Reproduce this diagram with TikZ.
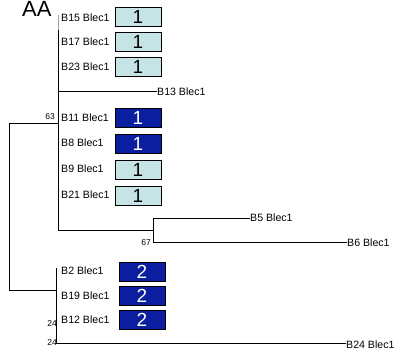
\documentclass[tikz,border=0pt]{standalone}
\usepackage{fontspec}
\setmainfont{Liberation Sans}
\definecolor{lightbox}{HTML}{C6E4E6}
\definecolor{darkbox}{HTML}{0B1EA0}
\begin{document}
\begin{tikzpicture}[x=1pt,y=-1pt,
  leaf/.style={anchor=west,inner sep=0pt,font=\fontsize{10.6}{12}\selectfont},
  boot/.style={anchor=east,inner sep=0pt,font=\fontsize{8.5}{10}\selectfont},
  lightnum/.style={draw=black,line width=0.8pt,fill=lightbox,minimum width=46pt,minimum height=19pt,inner sep=0pt,font=\fontsize{19}{20}\selectfont},
  darknum/.style={draw=black,line width=0.8pt,fill=darkbox,text=white,minimum width=46pt,minimum height=19pt,inner sep=0pt,font=\fontsize{19}{20}\selectfont},
  branch/.style={draw=black,line width=0.8pt}]
\useasboundingbox (0,0) rectangle (401,354);
\node[anchor=base west,inner sep=0pt,font=\fontsize{22}{22}\selectfont] (title) at (22,16) {AA};
% clade 1 internal coordinates
\coordinate (c1top) at (58,15);
\coordinate (c1mid) at (58,30);
\coordinate (c1bot) at (58,230);
\coordinate (c1root) at (58,123);
\coordinate (b13j) at (58,91);
\coordinate (b56j) at (153,230);
\coordinate (b5j) at (153,218);
\coordinate (b6j) at (153,242);
% clade 2
\coordinate (c2top) at (56,268);
\coordinate (c2bot) at (56,343);
\coordinate (c2root) at (56,290);
% root
\coordinate (rtop) at (9,123);
\coordinate (rbot) at (9,290);
% leaves clade 1
\node[leaf] (b15) at (61,18) {B15 Blec1};
\node[leaf] (b17) at (61,42) {B17 Blec1};
\node[leaf] (b23) at (61,67) {B23 Blec1};
\node[leaf] (b13) at (157,92) {B13 Blec1};
\node[leaf] (b11) at (61,118) {B11 Blec1};
\node[leaf] (b8) at (61,143) {B8 Blec1};
\node[leaf] (b9) at (61,169) {B9 Blec1};
\node[leaf] (b21) at (61,195) {B21 Blec1};
\node[leaf] (b5) at (250,218) {B5 Blec1};
\node[leaf] (b6) at (347,243) {B6 Blec1};
% leaves clade 2
\node[leaf] (b2) at (61,271) {B2 Blec1};
\node[leaf] (b19) at (61,296) {B19 Blec1};
\node[leaf] (b12) at (61,320) {B12 Blec1};
\node[leaf] (b24) at (346,345) {B24 Blec1};
% boxes
\node[lightnum] (n15) at (138,17) {1};
\node[lightnum] (n17) at (138,41.5) {1};
\node[lightnum] (n23) at (138,67) {1};
\node[darknum] (n11) at (138,118) {1};
\node[darknum] (n8) at (138,143.5) {1};
\node[lightnum] (n9) at (138,169.5) {1};
\node[lightnum] (n21) at (138,196) {1};
\node[darknum] (n2) at (142,271.5) {2};
\node[darknum] (n19) at (142,295.5) {2};
\node[darknum] (n12) at (142,320) {2};
% bootstrap values
\node[boot] (v63) at (55,117) {63};
\node[boot] (v67) at (151,243) {67};
\node[boot] (v24a) at (57,324) {24};
\node[boot] (v24b) at (57,343) {24};
% branches
\draw[draw=gray!70,line width=1pt] (c1top) -- (c1mid);
\draw[branch,line width=1pt] (c1mid) -- (c1bot);
\draw[branch] (b13j) -- (b13.west |- b13j);
\draw[branch] (c1bot) -- (b56j);
\draw[branch] (b5j) -- (b6j);
\draw[branch] (b5j) -- (b5.west |- b5j);
\draw[branch] (b6j) -- (b6.west |- b6j);
\draw[branch] (rtop) -- (c1root);
\draw[branch] (rtop) -- (rbot) -- (c2root);
\draw[branch] (c2top) -- (c2bot);
\draw[branch] (c2bot) -- (b24.west |- c2bot);
\end{tikzpicture}
\end{document}
